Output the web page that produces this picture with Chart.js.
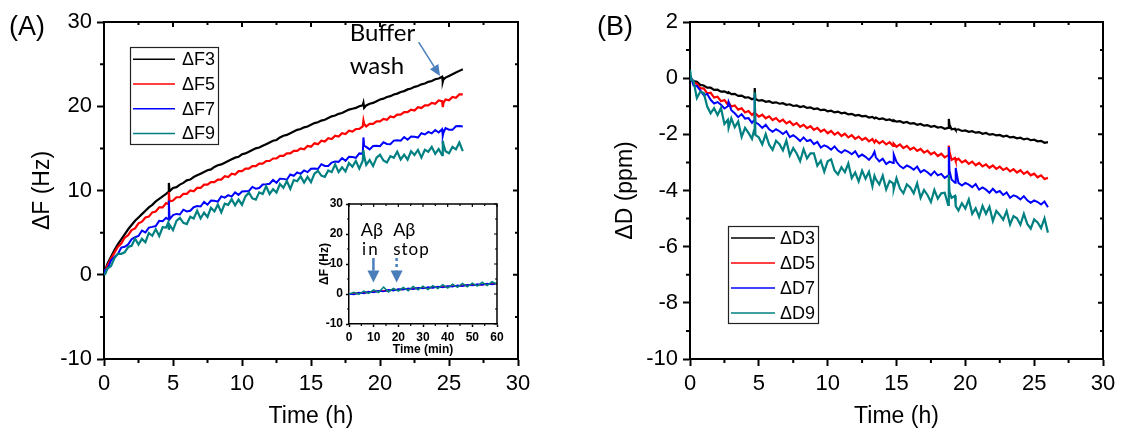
<!DOCTYPE html>
<html>
<head>
<meta charset="utf-8">
<script src="https://cdn.jsdelivr.net/npm/chart.js@4.4.1/dist/chart.umd.min.js"></script>
<style>
  html, body { margin: 0; padding: 0; background: #fff; }
  #page { position: relative; width: 1129px; height: 433px; overflow: hidden; background: #fff; }
  canvas { position: absolute; }
</style>
</head>
<body>
<div id="page">
  <canvas id="chartA" width="540" height="433" style="left:0;top:0"></canvas>
  <canvas id="chartB" width="564" height="433" style="left:565px;top:0"></canvas>
  <canvas id="chartIn" width="214" height="175" style="left:296px;top:190px"></canvas>
</div>
<script>
// panel A: frequency shift (Hz) vs time (h)
const tA = [0, 0.1, 0.25, 0.5, 0.75, 1, 1.25, 1.5, 1.75, 2,
  2.25, 2.5, 2.75, 3, 3.25, 3.5, 3.75, 4, 4.25, 4.5,
  4.65, 4.7, 4.75, 5, 5.25, 5.5, 5.75, 6, 6.25, 6.5,
  6.75, 7, 7.25, 7.5, 7.75, 8, 8.25, 8.5, 8.75, 9,
  9.25, 9.5, 9.75, 10, 10.25, 10.5, 10.75, 11, 11.25, 11.5,
  11.75, 12, 12.25, 12.5, 12.75, 13, 13.25, 13.5, 13.75, 14,
  14.25, 14.5, 14.75, 15, 15.25, 15.5, 15.75, 16, 16.25, 16.5,
  16.75, 17, 17.25, 17.5, 17.75, 18, 18.25, 18.5, 18.75, 18.8,
  18.85, 19, 19.25, 19.5, 19.75, 20, 20.25, 20.5, 20.75, 21,
  21.25, 21.5, 21.75, 22, 22.25, 22.5, 22.75, 23, 23.25, 23.5,
  23.75, 24, 24.25, 24.5, 24.55, 24.6, 24.75, 25, 25.25, 25.5,
  25.75, 26];

const dF3 = [0, 0.6, 1.3, 2.1, 2.9, 3.6, 4.2, 4.8, 5.4, 5.9,
  6.4, 6.8, 7.2, 7.6, 8.0, 8.3, 8.7, 9.0, 9.3, 9.6,
  9.8, 10.9, 9.9, 10.3, 10.4, 10.7, 10.9, 11.2, 11.3, 11.6,
  11.8, 12.0, 12.2, 12.4, 12.5, 12.8, 13.0, 13.1, 13.3, 13.5,
  13.7, 13.9, 14.0, 14.3, 14.4, 14.6, 14.8, 15.0, 15.1, 15.3,
  15.5, 15.7, 15.9, 16.0, 16.3, 16.5, 16.6, 16.8, 17.0, 17.2,
  17.3, 17.5, 17.6, 17.8, 18.0, 18.1, 18.3, 18.4, 18.6, 18.8,
  18.9, 19.1, 19.2, 19.4, 19.6, 19.7, 19.8, 20.0, 20.1, 20.4,
  19.8, 20.1, 20.3, 20.4, 20.6, 20.8, 20.9, 21.1, 21.2, 21.4,
  21.5, 21.7, 21.8, 22.0, 22.1, 22.3, 22.4, 22.6, 22.7, 22.9,
  23.0, 23.2, 23.3, 23.5, 22.9, 23.2, 23.4, 23.6, 23.8, 24.0,
  24.2, 24.4];

const dF5 = [0, 0.5, 1.1, 1.9, 2.6, 3.3, 3.7, 4.4, 4.7, 5.3,
  5.5, 6.1, 6.3, 6.8, 6.9, 7.4, 7.5, 8.0, 8.0, 8.5,
  8.4, 9.8, 8.7, 8.8, 9.2, 9.2, 9.6, 9.6, 10.0, 9.9,
  10.3, 10.3, 10.7, 10.7, 11.0, 11.0, 11.3, 11.3, 11.7, 11.6,
  12.0, 11.9, 12.3, 12.3, 12.6, 12.6, 12.9, 12.9, 13.2, 13.2,
  13.5, 13.5, 13.8, 13.8, 14.1, 14.1, 14.4, 14.4, 14.7, 14.7,
  15.0, 14.9, 15.3, 15.2, 15.6, 15.5, 15.9, 15.8, 16.2, 16.1,
  16.5, 16.4, 16.8, 16.7, 17.1, 17.0, 17.3, 17.3, 17.6, 18.3,
  17.9, 17.6, 17.9, 17.9, 18.2, 18.2, 18.5, 18.4, 18.8, 18.7,
  19.0, 19.0, 19.3, 19.3, 19.6, 19.5, 19.9, 19.8, 20.1, 20.1,
  20.4, 20.3, 20.7, 20.6, 19.9, 20.4, 20.8, 20.7, 21.1, 21.0,
  21.4, 21.4];

const dF7 = [0, 0.58, 0.68, 1.68, 2.12, 2.45, 3.22, 3.32, 3.6, 4.22,
  4.45, 4.6, 5.25, 5.02, 5.6, 5.68, 5.78, 6.4, 6.35, 6.75,
  6.58, 8.8, 6.58, 7.08, 7.22, 7.15, 7.72, 7.52, 7.6, 8.02,
  8.15, 8.1, 8.65, 8.32, 8.8, 8.78, 8.68, 9.3, 9.15, 9.45,
  9.28, 9.78, 9.48, 9.88, 9.92, 9.95, 10.42, 10.22, 10.3, 10.72,
  10.75, 10.8, 11.25, 10.92, 11.4, 11.38, 11.28, 11.9, 11.75, 12.15,
  11.98, 12.38, 12.18, 12.58, 12.62, 12.55, 13.12, 12.92, 12.9, 13.32,
  13.45, 13.4, 13.85, 13.52, 14.0, 13.98, 13.88, 14.4, 14.35, 16.3,
  15.3, 15.18, 14.88, 15.28, 15.32, 15.25, 15.72, 15.52, 15.5, 15.92,
  15.95, 15.9, 16.35, 16.02, 16.4, 16.38, 16.28, 16.8, 16.65, 16.95,
  16.78, 17.18, 16.88, 17.28, 16.5, 16.85, 17.42, 17.22, 17.2, 17.62,
  17.65, 17.6];

const dF9 = [0, 0.12, 0.76, 1.0, 1.95, 2.47, 2.48, 2.66, 3.29, 3.44,
  4.3, 3.58, 4.26, 3.86, 4.96, 4.62, 5.42, 4.6, 5.64, 5.6,
  6.18, 5.34, 5.92, 5.3, 6.4, 6.74, 6.16, 6.02, 6.88, 6.68,
  7.6, 6.68, 7.36, 6.86, 7.96, 7.52, 8.32, 7.4, 8.44, 8.3,
  8.98, 8.24, 8.92, 8.3, 9.3, 9.74, 9.06, 8.92, 9.78, 9.58,
  10.5, 9.58, 10.16, 9.76, 10.76, 10.32, 11.12, 10.2, 11.24, 11.1,
  11.68, 10.94, 11.62, 11.0, 12.0, 12.34, 11.76, 11.62, 12.38, 12.18,
  13.1, 12.18, 12.76, 12.26, 13.26, 12.82, 13.52, 12.6, 13.54, 14.8,
  14.08, 13.04, 13.62, 12.9, 13.9, 14.24, 13.56, 13.32, 14.08, 13.88,
  14.6, 13.68, 14.26, 13.66, 14.66, 14.22, 14.82, 13.9, 14.84, 14.6,
  15.18, 14.34, 14.92, 14.2, 15.9, 15.44, 14.66, 14.42, 15.18, 14.88,
  15.7, 14.68];

// panel B: dissipation shift (ppm) vs time (h)
const tB = [0, 0.1, 0.25, 0.5, 0.75, 1, 1.25, 1.5, 1.75, 2,
  2.25, 2.5, 2.75, 2.8, 3, 3.25, 3.5, 3.75, 4, 4.25,
  4.5, 4.65, 4.7, 4.75, 5, 5.25, 5.5, 5.75, 6, 6.25,
  6.5, 6.75, 7, 7.25, 7.5, 7.75, 8, 8.25, 8.5, 8.75,
  9, 9.25, 9.5, 9.75, 10, 10.25, 10.5, 10.75, 11, 11.25,
  11.5, 11.75, 12, 12.25, 12.5, 12.75, 13, 13.25, 13.4, 13.5,
  13.75, 14, 14.25, 14.5, 14.75, 14.8, 15, 15.25, 15.5, 15.75,
  16, 16.25, 16.5, 16.75, 17, 17.25, 17.5, 17.75, 18, 18.25,
  18.5, 18.75, 18.8, 18.85, 19, 19.25, 19.3, 19.5, 19.75, 20,
  20.25, 20.5, 20.75, 21, 21.25, 21.5, 21.75, 22, 22.25, 22.5,
  22.75, 23, 23.25, 23.5, 23.75, 24, 24.25, 24.5, 24.75, 25,
  25.25, 25.5, 25.75, 26];

const dD3 = [0, -0.03, -0.1, -0.13, -0.24, -0.26, -0.34, -0.34, -0.42, -0.41,
  -0.48, -0.47, -0.53, -0.5, -0.57, -0.56, -0.63, -0.62, -0.69, -0.68,
  -0.75, -0.72, -0.35, -0.74, -0.8, -0.78, -0.84, -0.82, -0.88, -0.86,
  -0.91, -0.89, -0.95, -0.93, -0.99, -0.97, -1.03, -1.0, -1.06, -1.04,
  -1.1, -1.08, -1.14, -1.12, -1.18, -1.16, -1.22, -1.19, -1.25, -1.23,
  -1.29, -1.27, -1.33, -1.31, -1.36, -1.34, -1.4, -1.38, -1.43, -1.4,
  -1.46, -1.43, -1.49, -1.47, -1.53, -1.5, -1.55, -1.53, -1.59, -1.56,
  -1.62, -1.6, -1.66, -1.63, -1.69, -1.67, -1.73, -1.7, -1.76, -1.74,
  -1.8, -1.77, -1.45, -1.66, -1.82, -1.8, -1.84, -1.82, -1.88, -1.86,
  -1.91, -1.89, -1.94, -1.92, -1.98, -1.95, -2.01, -1.99, -2.04, -2.02,
  -2.08, -2.05, -2.11, -2.09, -2.14, -2.12, -2.18, -2.15, -2.21, -2.19,
  -2.25, -2.23, -2.3, -2.28];

const dD5 = [0, -0.04, -0.16, -0.2, -0.36, -0.36, -0.54, -0.52, -0.69, -0.66,
  -0.82, -0.78, -0.94, -0.86, -1.01, -0.97, -1.12, -1.07, -1.22, -1.17,
  -1.31, -1.24, -1.3, -1.26, -1.37, -1.3, -1.43, -1.36, -1.49, -1.42,
  -1.55, -1.48, -1.61, -1.54, -1.67, -1.6, -1.73, -1.66, -1.78, -1.71,
  -1.84, -1.77, -1.9, -1.83, -1.96, -1.88, -2.01, -1.93, -2.06, -1.98,
  -2.11, -2.03, -2.16, -2.08, -2.2, -2.13, -2.25, -2.17, -2.29, -2.21,
  -2.32, -2.24, -2.36, -2.28, -2.41, -2.33, -2.44, -2.36, -2.49, -2.41,
  -2.54, -2.47, -2.59, -2.52, -2.65, -2.58, -2.71, -2.64, -2.77, -2.69,
  -2.82, -2.75, -2.4, -2.62, -2.91, -2.84, -2.93, -2.87, -3.0, -2.93,
  -3.05, -2.97, -3.1, -3.02, -3.14, -3.07, -3.19, -3.11, -3.23, -3.15,
  -3.27, -3.2, -3.32, -3.24, -3.36, -3.28, -3.41, -3.33, -3.46, -3.4,
  -3.53, -3.46, -3.59, -3.55];

const dD7 = [0, -0.01, -0.26, -0.28, -0.43, -0.61, -0.56, -0.77, -0.9, -0.85,
  -0.95, -1.08, -1.0, -0.85, -1.14, -1.25, -1.39, -1.28, -1.44, -1.42,
  -1.59, -1.5, -0.6, -1.57, -1.65, -1.77, -1.66, -1.82, -1.91, -1.82,
  -1.89, -1.99, -1.89, -2.1, -2.03, -2.12, -2.24, -2.11, -2.24, -2.2,
  -2.35, -2.27, -2.47, -2.39, -2.45, -2.55, -2.43, -2.58, -2.66, -2.56,
  -2.62, -2.71, -2.6, -2.8, -2.72, -2.8, -2.91, -2.77, -2.62, -2.82,
  -2.96, -2.87, -3.06, -2.97, -3.02, -2.72, -2.98, -3.13, -3.21, -3.11,
  -3.17, -3.26, -3.15, -3.35, -3.27, -3.35, -3.46, -3.32, -3.46, -3.41,
  -3.55, -3.47, -2.45, -3.3, -3.61, -3.72, -3.2, -3.73, -3.82, -3.73,
  -3.79, -3.88, -3.77, -3.97, -3.89, -3.97, -4.08, -3.94, -4.07, -4.02,
  -4.16, -4.07, -4.26, -4.17, -4.22, -4.32, -4.2, -4.35, -4.44, -4.35,
  -4.41, -4.5, -4.39, -4.6];

const dD9 = [0.3, -0.07, -0.09, -0.71, -0.48, -0.53, -1.01, -1.25, -1.07, -1.31,
  -1.06, -1.63, -1.48, -1.77, -1.43, -1.75, -1.54, -2.09, -1.77, -1.95,
  -2.16, -1.86, -0.5, -2.02, -2.11, -2.36, -1.99, -2.37, -2.55, -2.23,
  -2.35, -2.57, -2.22, -2.75, -2.49, -2.68, -2.95, -2.53, -2.86, -2.68,
  -2.68, -3.12, -2.94, -3.33, -2.96, -2.89, -3.29, -3.43, -3.17, -3.35,
  -3.04, -3.56, -3.36, -3.68, -3.29, -3.58, -3.33, -3.85, -3.48, -3.6,
  -3.78, -3.47, -3.96, -3.66, -3.75, -3.95, -3.56, -3.93, -4.1, -3.78,
  -3.89, -4.1, -3.74, -4.26, -3.98, -4.16, -4.41, -3.98, -4.29, -4.1,
  -4.08, -4.51, -3.45, -4.05, -4.26, -4.19, -4.56, -4.71, -4.45, -4.64,
  -4.32, -4.83, -4.63, -4.94, -4.55, -4.83, -4.58, -5.09, -4.73, -4.87,
  -5.04, -4.73, -5.21, -4.91, -4.99, -5.22, -4.83, -5.19, -5.36, -5.03,
  -5.14, -5.34, -4.99, -5.5];

// inset: first hour, time in minutes
const tMin = [0, 2, 4, 6, 8, 10, 12, 14, 16, 18, 20, 22, 24, 26, 28, 30,
  32, 34, 36, 38, 40, 42, 44, 46, 48, 50, 52, 54, 56, 58, 60];
const inF3 = [0, 0.1, 0.3, 0.4, 0.6, 0.8, 0.9, 1.0, 1.2, 1.3, 1.5, 1.6, 1.7, 1.8, 1.9, 2.0,
  2.1, 2.2, 2.3, 2.4, 2.5, 2.6, 2.7, 2.8, 2.9, 3.0, 3.1, 3.2, 3.3, 3.4, 3.5];
const inF5 = [0, 0.2, 0.2, 0.5, 0.5, 0.8, 0.8, 1.1, 1.1, 1.4, 1.4, 1.6, 1.6, 1.9, 1.8, 2.1,
  2.0, 2.3, 2.2, 2.5, 2.4, 2.7, 2.6, 2.9, 2.8, 3.1, 3.0, 3.2, 3.2, 3.4, 3.4];
const inF7 = [0, -0.2, 0.5, 0.2, 0.8, 0.5, 1.1, 0.8, 1.4, 1.1, 1.7, 1.4, 1.9, 1.6, 2.1, 1.8,
  2.3, 2.0, 2.5, 2.2, 2.7, 2.4, 2.9, 2.6, 3.1, 2.8, 3.3, 3.0, 3.5, 3.2, 3.6];
const inF9 = [0, 0.6, -0.1, 1.0, 0.2, 1.4, 0.5, 2.3, 0.7, 1.9, 1.0, 2.2, 1.1, 2.5, 1.4, 2.6,
  1.5, 2.8, 1.8, 3.1, 2.0, 3.3, 2.2, 3.5, 2.4, 3.6, 2.6, 3.9, 2.8, 4.1, 3.2];

const labelsF = ['ΔF3', 'ΔF5', 'ΔF7', 'ΔF9'];
const labelsD = ['ΔD3', 'ΔD5', 'ΔD7', 'ΔD9'];
const colors = ['#000000', '#ff0000', '#0000ff', '#008080'];

const SANS = "'Liberation Sans', Arial, sans-serif";
const CALI = "Lato, 'Open Sans', sans-serif";
const ARROW = '#4a7ebb';

function pts(t, v) {
  return t.map((x, i) => ({ x, y: v[i] }));
}

function lineSets(labels, t, series, widths) {
  // black at the bottom, teal drawn on top
  return series.map((v, i) => ({
    label: labels[i],
    data: pts(t, v),
    borderColor: colors[i],
    backgroundColor: colors[i],
    borderWidth: widths[i],
    pointRadius: 0,
    fill: false,
    tension: 0,
    order: series.length - i
  }));
}

// top / right frame and minor ticks
const frame = {
  id: 'frame',
  afterDraw(chart, args, o) {
    const { ctx, chartArea: a, scales: { x, y } } = chart;
    ctx.save();
    ctx.strokeStyle = '#000';
    ctx.lineWidth = o.lw;
    ctx.beginPath();
    ctx.moveTo(a.left, a.top);
    ctx.lineTo(a.right, a.top);
    ctx.lineTo(a.right, a.bottom);
    ctx.stroke();

    ctx.lineWidth = o.tw;
    ctx.beginPath();
    const nx = Math.round((x.max - x.min) / (o.xStep / 2));
    for (let i = 0; i <= nx; i++) {
      const px = x.getPixelForValue(x.min + i * o.xStep / 2);
      const major = i % 2 === 0;
      if (!major) {
        ctx.moveTo(px, a.bottom);
        ctx.lineTo(px, a.bottom + o.out);
      }
      ctx.moveTo(px, a.top);
      ctx.lineTo(px, a.top + (major ? o.inMajor : o.inMinor));
    }
    const ny = Math.round((y.max - y.min) / (o.yStep / 2));
    for (let i = 0; i <= ny; i++) {
      const py = y.getPixelForValue(y.min + i * o.yStep / 2);
      const major = i % 2 === 0;
      if (!major) {
        ctx.moveTo(a.left, py);
        ctx.lineTo(a.left - o.out, py);
      }
      ctx.moveTo(a.right, py);
      ctx.lineTo(a.right - (major ? o.inMajor : o.inMinor), py);
    }
    ctx.stroke();
    ctx.restore();
  }
};

// boxed legend inside the plot
const boxLegend = {
  id: 'boxLegend',
  afterDraw(chart, args, o) {
    if (!o.show) return;
    const { ctx, chartArea: a } = chart;
    const left = a.left + o.dx, top = a.top + o.dy;
    ctx.save();
    ctx.fillStyle = '#fff';
    ctx.fillRect(left, top, o.w, o.h);
    ctx.strokeStyle = '#222';
    ctx.lineWidth = 1.2;
    ctx.strokeRect(left + 0.5, top + 0.5, o.w, o.h);
    ctx.font = o.font;
    ctx.textAlign = 'left';
    ctx.textBaseline = 'middle';
    chart.data.datasets.forEach((ds, i) => {
      const yy = top + o.first + i * o.row;
      ctx.strokeStyle = ds.borderColor;
      ctx.lineWidth = 1.5;
      ctx.beginPath();
      ctx.moveTo(left + o.lx0, yy);
      ctx.lineTo(left + o.lx1, yy);
      ctx.stroke();
      ctx.fillStyle = '#000';
      ctx.fillText(ds.label, left + o.tx, yy + 1);
    });
    ctx.restore();
  }
};

// text labels and arrows
const notes = {
  id: 'notes',
  afterDraw(chart, args, o) {
    const { ctx, scales: { x, y } } = chart;
    ctx.save();
    (o.arrows || []).forEach(r => {
      const x1 = x.getPixelForValue(r.x1), y1 = y.getPixelForValue(r.y1);
      const x2 = x.getPixelForValue(r.x2), y2 = y.getPixelForValue(r.y2);
      const ang = Math.atan2(y2 - y1, x2 - x1);
      const bx = x2 - r.head * Math.cos(ang), by = y2 - r.head * Math.sin(ang);
      ctx.strokeStyle = ARROW;
      ctx.fillStyle = ARROW;
      ctx.lineWidth = r.width;
      ctx.setLineDash(r.dash || []);
      ctx.beginPath();
      ctx.moveTo(x1, y1);
      ctx.lineTo(bx, by);
      ctx.stroke();
      ctx.setLineDash([]);
      ctx.beginPath();
      ctx.moveTo(x2, y2);
      ctx.lineTo(bx + r.hw * Math.sin(ang), by - r.hw * Math.cos(ang));
      ctx.lineTo(bx - r.hw * Math.sin(ang), by + r.hw * Math.cos(ang));
      ctx.closePath();
      ctx.fill();
    });
    (o.texts || []).forEach(t => {
      ctx.font = t.font;
      ctx.fillStyle = '#000';
      ctx.letterSpacing = t.spacing || '0px';
      ctx.textAlign = 'left';
      ctx.textBaseline = 'alphabetic';
      const px = t.px !== undefined ? t.px : x.getPixelForValue(t.x);
      const py = t.py !== undefined ? t.py : y.getPixelForValue(t.y);
      ctx.fillText(t.text, px, py);
    });
    ctx.restore();
  }
};

function axis(min, max, step, size, fit, title, titlePad, opts) {
  return {
    type: 'linear',
    min, max,
    afterFit: fit,
    ticks: {
      stepSize: step,
      color: '#000',
      padding: opts.pad,
      font: { family: SANS, size: size, weight: opts.bold ? 'bold' : 'normal' }
    },
    grid: {
      drawOnChartArea: false,
      drawTicks: true,
      tickLength: opts.tick,
      tickWidth: opts.lw,
      tickColor: '#000'
    },
    border: { display: true, color: '#000', width: opts.lw },
    title: {
      display: true,
      text: title,
      color: '#000',
      padding: titlePad,
      font: { family: SANS, size: opts.titleSize, weight: opts.bold ? 'bold' : 'normal' }
    }
  };
}

const mainOpts = { pad: 5, tick: 7, lw: 2, titleSize: 23 };
const mainWidths = [2.2, 2.2, 2, 2.2];

new Chart(document.getElementById('chartA'), {
  type: 'line',
  data: { datasets: lineSets(labelsF, tA, [dF3, dF5, dF7, dF9], mainWidths) },
  options: {
    responsive: false,
    animation: false,
    layout: { padding: { left: 0, top: 22, right: 22, bottom: 0 } },
    scales: {
      x: axis(0, 30, 5, 22, s => { s.height = 74; }, 'Time (h)', { top: 0, bottom: 3 }, mainOpts),
      y: axis(-10, 30, 10, 22, s => { s.width = 104; }, 'ΔF (Hz)', { top: 29, bottom: 0 }, mainOpts)
    },
    plugins: {
      legend: { display: false },
      tooltip: { enabled: false },
      frame: { lw: 2, tw: 2, xStep: 5, yStep: 10, out: 4, inMajor: 5, inMinor: 3 },
      boxLegend: { show: true, dx: 26, dy: 25, w: 88, h: 97, first: 12.3, row: 24.7,
                   lx0: 3, lx1: 45, tx: 52, font: '18px ' + SANS },
      notes: {
        texts: [
          { text: '(A)', px: 9, py: 35, font: '27px ' + SANS },
          { text: 'Buffer', x: 17.8, y: 27.7, font: '24px ' + CALI },
          { text: 'wash', x: 17.8, y: 23.8, font: '24px ' + CALI }
        ],
        arrows: [
          { x1: 22.8, y1: 27.6, x2: 24.35, y2: 23.6, width: 1.5, head: 11, hw: 5 }
        ]
      }
    }
  },
  plugins: [frame, boxLegend, notes]
});

new Chart(document.getElementById('chartB'), {
  type: 'line',
  data: { datasets: lineSets(labelsD, tB, [dD3, dD5, dD7, dD9], mainWidths) },
  options: {
    responsive: false,
    animation: false,
    layout: { padding: { left: 0, top: 22, right: 26, bottom: 0 } },
    scales: {
      x: axis(0, 30, 5, 22, s => { s.height = 74; }, 'Time (h)', { top: 0, bottom: 3 }, mainOpts),
      y: axis(-10, 2, 2, 22, s => { s.width = 125; }, 'ΔD (ppm)', { top: 47, bottom: 0 }, mainOpts)
    },
    plugins: {
      legend: { display: false },
      tooltip: { enabled: false },
      frame: { lw: 2, tw: 2, xStep: 5, yStep: 2, out: 4, inMajor: 5, inMinor: 3 },
      boxLegend: { show: true, dx: 38, dy: 204, w: 90, h: 97, first: 12, row: 25,
                   lx0: 3, lx1: 47, tx: 52, font: '18px ' + SANS },
      notes: {
        texts: [
          { text: '(B)', px: 32, py: 35, font: '27px ' + SANS }
        ]
      }
    }
  },
  plugins: [frame, boxLegend, notes]
});

const insetOpts = { pad: 3, tick: 3, lw: 1.5, titleSize: 12, bold: true };

new Chart(document.getElementById('chartIn'), {
  type: 'line',
  data: { datasets: lineSets(labelsF, tMin, [inF3, inF5, inF7, inF9], [1.5, 1.5, 1.5, 1.5]) },
  options: {
    responsive: false,
    animation: false,
    layout: { padding: { left: 0, top: 14, right: 13, bottom: 0 } },
    scales: {
      x: axis(0, 60, 10, 12, s => { s.height = 41; }, 'Time (min)', { top: 0, bottom: 8 }, insetOpts),
      y: axis(-10, 30, 10, 12, s => { s.width = 53; }, 'ΔF (Hz)', { top: 21, bottom: 0 }, insetOpts)
    },
    plugins: {
      legend: { display: false },
      tooltip: { enabled: false },
      frame: { lw: 1.5, tw: 1.2, xStep: 10, yStep: 10, out: 2, inMajor: 3, inMinor: 2 },
      boxLegend: { show: false },
      notes: {
        texts: [
          { text: 'Aβ', x: 4.8, y: 19.5, font: '18px ' + CALI },
          { text: 'in', x: 5.3, y: 13, font: '17px ' + CALI, spacing: '2px' },
          { text: 'Aβ', x: 17.9, y: 19.5, font: '18px ' + CALI },
          { text: 'stop', x: 17.9, y: 13, font: '17px ' + CALI, spacing: '1px' }
        ],
        arrows: [
          { x1: 9.9, y1: 12, x2: 9.9, y2: 3.8, width: 2.5, head: 12, hw: 6 },
          { x1: 19.3, y1: 12, x2: 19.3, y2: 3.8, width: 2.5, head: 12, hw: 6, dash: [3, 3] }
        ]
      }
    }
  },
  plugins: [frame, boxLegend, notes]
});
</script>
</body>
</html>
